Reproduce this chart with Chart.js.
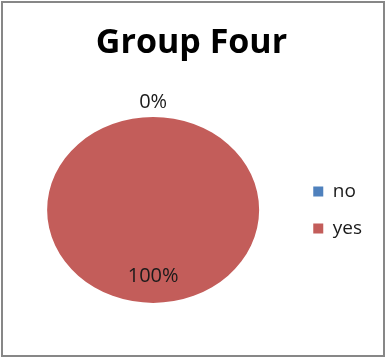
<html>
<head>
    <title>Group Four</title>
    <script src="https://cdn.jsdelivr.net/npm/chart.js@4.4.0/dist/chart.umd.min.js"></script>
    <style>
        body { margin: 0; background: #fff; }
        #frame {
            position: absolute; left: 1px; top: 1px;
            width: 380px; height: 352px;
            border: 2px solid #878787;
        }
    </style>
</head>
<body>
<div id="frame">
    <canvas id="groupChart" width="380" height="352"></canvas>
</div>

<script>
  const title = 'Group Four'
  const answers = ['no', 'yes']
  const percents = [0, 100]
  const colors = ['#4F81BD', '#C35D5A']

  // squash the pie a little so it comes out as an ellipse
  const flatten = 93 / 106

  const ellipsePlugin = {
    id: 'ellipse',
    beforeDatasetsDraw(chart) {
      const arc = chart.getDatasetMeta(0).data[0]
      const ctx = chart.ctx
      ctx.save()
      ctx.translate(arc.x, arc.y)
      ctx.scale(1, flatten)
      ctx.translate(-arc.x, -arc.y)
    },
    afterDatasetsDraw(chart) {
      chart.ctx.restore()
    }
  }

  // percentage labels, empty slices go outside the pie
  const percentLabels = {
    id: 'percentLabels',
    afterDatasetsDraw(chart) {
      const ctx = chart.ctx
      const meta = chart.getDatasetMeta(0)
      ctx.save()
      ctx.font = '20px "Open Sans"'
      ctx.fillStyle = '#1a1a1a'
      ctx.textAlign = 'center'
      ctx.textBaseline = 'middle'
      meta.data.forEach(function (arc, i) {
        const mid = (arc.startAngle + arc.endAngle) / 2
        const r = percents[i] === 0 ? arc.outerRadius * 1.16 : arc.outerRadius * 0.71
        const x = arc.x + Math.cos(mid) * r
        const y = arc.y + Math.sin(mid) * r * flatten
        ctx.fillText(percents[i] + '%', x, y)
      })
      ctx.restore()
    }
  }

  new Chart(document.getElementById('groupChart'), {
    type: 'pie',
    data: {
      labels: answers,
      datasets: [{
        data: percents,
        backgroundColor: colors,
        borderWidth: 0,
        hoverOffset: 0,
        radius: 106
      }]
    },
    options: {
      responsive: false,
      animation: false,
      layout: { padding: { left: 8, right: 11, top: 0, bottom: 17 } },
      plugins: {
        title: {
          display: true,
          text: title,
          color: '#000',
          font: { family: 'Open Sans', size: 34, weight: 'bold' },
          padding: { top: 20, bottom: 18 }
        },
        legend: {
          position: 'right',
          fullSize: false,
          labels: {
            color: '#1a1a1a',
            font: { family: 'Open Sans', size: 19 },
            boxWidth: 10,
            boxHeight: 10,
            padding: 18
          }
        },
        tooltip: { enabled: false }
      }
    },
    plugins: [ellipsePlugin, percentLabels]
  })
</script>
</body>
</html>
